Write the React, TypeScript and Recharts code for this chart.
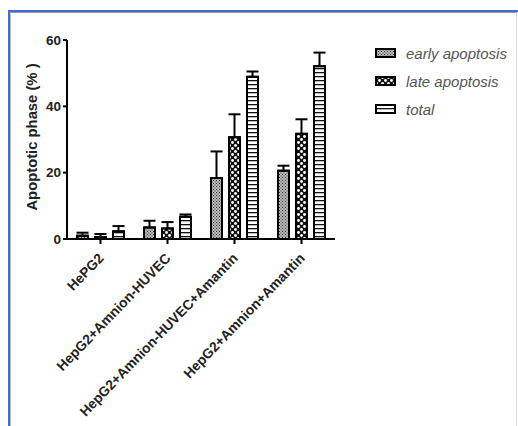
import { Bar, BarChart, ErrorBar, Legend, XAxis, YAxis } from "recharts"

const categories = ["HePG2", "HepG2+Amnion-HUVEC", "HepG2+Amnion-HUVEC+Amantin", "HepG2+Amnion+Amantin"]
const early = [1.0, 3.5, 18.4, 20.6]
const earlyErr = [0.9, 2.0, 8.0, 1.5]
const late = [0.6, 3.2, 30.7, 31.7]
const lateErr = [0.9, 1.9, 6.9, 4.4]
const total = [2.3, 6.7, 48.9, 52.1]
const totalErr = [1.6, 0.7, 1.6, 4.1]
const yTicks = [0, 20, 40, 60]

const series = [
  { key: "early", label: "early apoptosis", fill: "url(#patEarly)" },
  { key: "late", label: "late apoptosis", fill: "url(#patLate)" },
  { key: "total", label: "total", fill: "url(#patTotal)" },
]

const data = categories.map((name, i) => ({
  name,
  early: early[i],
  earlyErr: [0, earlyErr[i]],
  late: late[i],
  lateErr: [0, lateErr[i]],
  total: total[i],
  totalErr: [0, totalErr[i]],
}))

const font = "'Liberation Sans', Arial, sans-serif"

function XTick(props: any) {
  const { x, y, payload } = props
  return (
    <text
      x={x + 4}
      y={y + 13}
      transform={`rotate(-46 ${x + 4} ${y + 13})`}
      textAnchor="end"
      fontFamily={font}
      fontWeight="bold"
      fontSize={13.8}
      fill="#222"
    >
      {payload.value}
    </text>
  )
}

function LegendBox() {
  return (
    <div style={{ fontFamily: font }}>
      {series.map((s) => (
        <div key={s.key} style={{ display: "flex", alignItems: "center", height: 28 }}>
          <svg width={22} height={10} style={{ marginRight: 9 }}>
            <rect x={1} y={1} width={19} height={8} fill={s.fill} stroke="#000" strokeWidth={2} />
          </svg>
          <span style={{ fontStyle: "italic", fontSize: 15, color: "#555" }}>{s.label}</span>
        </div>
      ))}
    </div>
  )
}

export default function App() {
  return (
    <div style={{ position: "absolute", left: 0, top: 0, width: 518, height: 426, background: "#fff" }}>
      <div
        style={{
          position: "absolute",
          left: 8,
          top: 10,
          right: 0,
          bottom: 0,
          borderTop: "2px solid #3f6ccf",
          borderLeft: "2px solid #3f6ccf",
        }}
      >
        <div style={{ position: "absolute", left: 0, top: 0, right: 1, bottom: 0, borderTop: "1px solid #999", borderLeft: "1px solid #bbb", borderRight: "1px solid #ddd" }} />
      </div>
      <div
        style={{
          position: "absolute",
          left: 32,
          top: 137,
          transform: "translate(-50%, -50%) rotate(-90deg)",
          whiteSpace: "nowrap",
          fontFamily: font,
          fontWeight: "bold",
          fontSize: 14.8,
          color: "#222",
        }}
      >
        Apoptotic phase (% )
      </div>
      <BarChart
        width={518}
        height={426}
        data={data}
        margin={{ top: 40, right: 183, bottom: 0, left: 27 }}
        barSize={11}
        barGap={7}
        style={{ position: "absolute", left: 0, top: 0 }}
      >
        <defs>
          <pattern id="patEarly" width={3} height={3} patternUnits="userSpaceOnUse">
            <rect width={3} height={3} fill="#bbb" />
            <rect x={0} y={0} width={1} height={1} fill="#333" />
            <rect x={1.5} y={1.5} width={1} height={1} fill="#333" />
          </pattern>
          <pattern id="patLate" width={6} height={6} patternUnits="userSpaceOnUse">
            <rect width={6} height={6} fill="#111" />
            <circle cx={1.5} cy={1.5} r={1.4} fill="#fff" />
            <circle cx={4.5} cy={4.5} r={1.4} fill="#fff" />
          </pattern>
          <pattern id="patTotal" width={4} height={4} patternUnits="userSpaceOnUse">
            <rect width={4} height={4} fill="#fff" />
            <rect x={0} y={0} width={4} height={1.3} fill="#111" />
          </pattern>
        </defs>
        <XAxis
          dataKey="name"
          height={187}
          interval={0}
          stroke="#000"
          strokeWidth={2}
          tickSize={5}
          tick={<XTick />}
        />
        <YAxis
          width={40}
          domain={[0, 60]}
          ticks={yTicks}
          stroke="#000"
          strokeWidth={2}
          tickSize={4}
          tick={{ fontFamily: font, fontWeight: "bold", fontSize: 13.5, fill: "#222" }}
        />
        <Legend
          layout="vertical"
          align="center"
          verticalAlign="middle"
          wrapperStyle={{ left: 375, top: 39, width: 143 }}
          content={<LegendBox />}
        />
        {series.map((s) => (
          <Bar key={s.key} dataKey={s.key} fill={s.fill} stroke="#000" strokeWidth={2} isAnimationActive={false}>
            <ErrorBar dataKey={`${s.key}Err`} direction="y" width={6} stroke="#000" strokeWidth={2} />
          </Bar>
        ))}
      </BarChart>
    </div>
  )
}
